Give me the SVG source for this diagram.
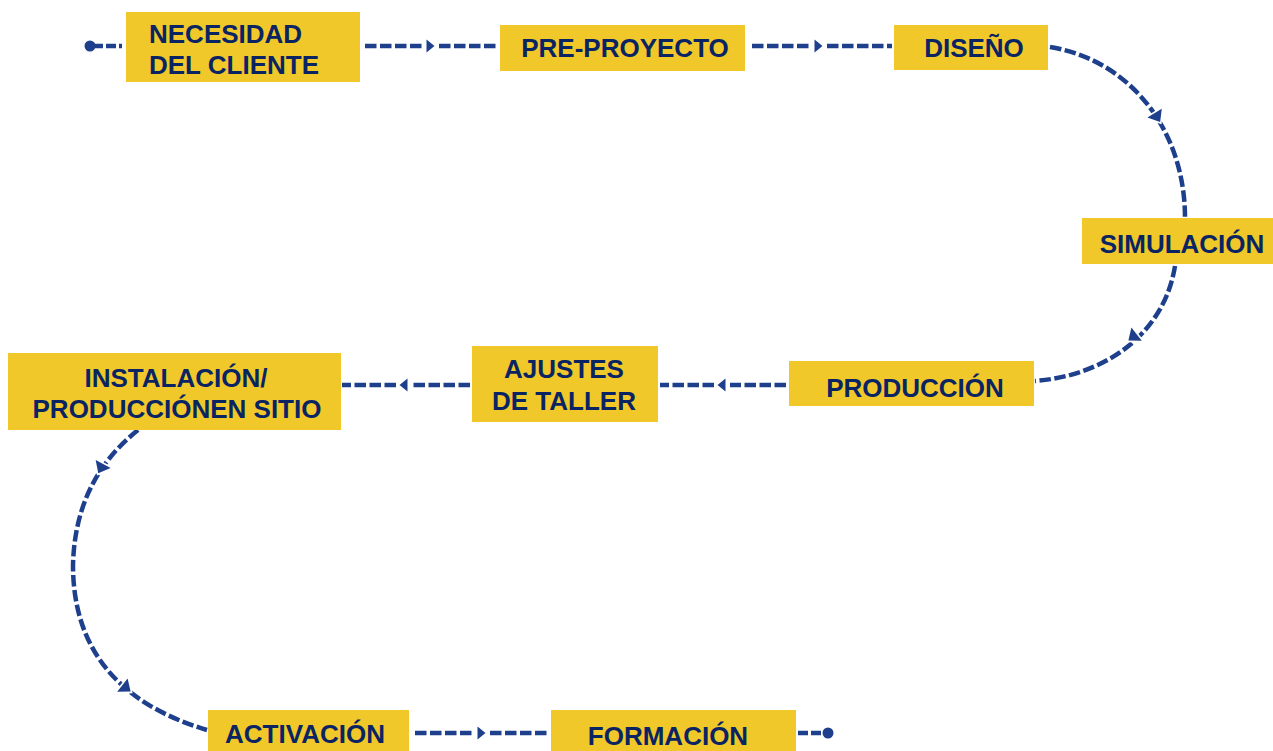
<svg xmlns="http://www.w3.org/2000/svg" width="1273" height="751" viewBox="0 0 1273 751">
<style>
.box{fill:#F0C82A}
.t{font-family:"Liberation Sans",Arial,sans-serif;font-weight:bold;font-size:26px;fill:#0A2463}
.m{text-anchor:middle}
.ln{fill:none;stroke:#1E3F8C;stroke-width:4.5;stroke-dasharray:11.5 3.5}
.sh{stroke-dasharray:10 3}
.ah{fill:#1E3F8C}
.aw{fill:#1E3F8C;stroke:#fff;stroke-width:2.5;paint-order:stroke}
</style>
<defs>
<path id="ah" d="M-3.5,-6.5 L4.5,0 L-3.5,6.5 Z"/>
</defs>
<rect width="1273" height="751" fill="#fff"/>
<g id="connectors">
<circle cx="90" cy="46" r="5.5" class="ah"/>
<path class="ln sh" d="M93,46 H122"/>
<path class="ln" d="M365,46 H422"/>
<path class="ln" d="M439,46 H498"/>
<path class="ln" d="M752,46 H810"/>
<path class="ln" d="M827,46 H892"/>
<path class="ln" d="M1050,47 C1130,60 1185,130 1185,218"/>
<path class="ln" d="M1175,266 C1165,330 1110,375 1035,381"/>
<path class="ln" d="M786,385 H730"/>
<path class="ln" d="M714,385 H660"/>
<path class="ln" d="M470,385 H412"/>
<path class="ln" d="M396,385 H342"/>
<path class="ln" d="M138,430 Q75,480 73,565 Q73,690 207,730"/>
<path class="ln" d="M415,733 H473"/>
<path class="ln" d="M490,733 H549"/>
<path class="ln sh" d="M798,733 H825"/>
<circle cx="828" cy="733" r="5.5" class="ah"/>
<use href="#ah" class="ah" transform="translate(430,46)"/>
<use href="#ah" class="ah" transform="translate(818,46)"/>
<use href="#ah" class="aw" transform="translate(1157,117) rotate(58) scale(1.3)"/>
<use href="#ah" class="aw" transform="translate(1133,337) rotate(142) scale(1.3)"/>
<use href="#ah" class="ah" transform="translate(722,385) rotate(180)"/>
<use href="#ah" class="ah" transform="translate(404,385) rotate(180)"/>
<use href="#ah" class="aw" transform="translate(101,468) rotate(118) scale(1.3)"/>
<use href="#ah" class="aw" transform="translate(126,688) rotate(38) scale(1.3)"/>
<use href="#ah" class="ah" transform="translate(481,733)"/>
</g>
<g id="n1"><rect class="box" x="126" y="12" width="234" height="70"/><text class="t" x="149" y="43">NECESIDAD</text><text class="t" x="149" y="74">DEL CLIENTE</text></g>
<g id="n2"><rect class="box" x="500" y="25" width="245" height="46"/><text class="t m" x="625" y="57">PRE-PROYECTO</text></g>
<g id="n3"><rect class="box" x="894" y="25" width="154" height="45"/><text class="t m" x="974" y="57">DISEÑO</text></g>
<g id="n4"><rect class="box" x="1082" y="218" width="191" height="46"/><text class="t m" x="1182" y="253">SIMULACIÓN</text></g>
<g id="n5"><rect class="box" x="789" y="361" width="245" height="45"/><text class="t m" x="915" y="397">PRODUCCIÓN</text></g>
<g id="n6"><rect class="box" x="472" y="346" width="186" height="76"/><text class="t m" x="564" y="378">AJUSTES</text><text class="t m" x="564" y="410">DE TALLER</text></g>
<g id="n7"><rect class="box" x="8" y="353" width="333" height="77"/><text class="t m" x="176" y="387">INSTALACIÓN/</text><text class="t m" x="177" y="418">PRODUCCIÓNEN SITIO</text></g>
<g id="n8"><rect class="box" x="208" y="710" width="201" height="45"/><text class="t m" x="305" y="743">ACTIVACIÓN</text></g>
<g id="n9"><rect class="box" x="551" y="710" width="245" height="45"/><text class="t m" x="668" y="745">FORMACIÓN</text></g>
</svg>
